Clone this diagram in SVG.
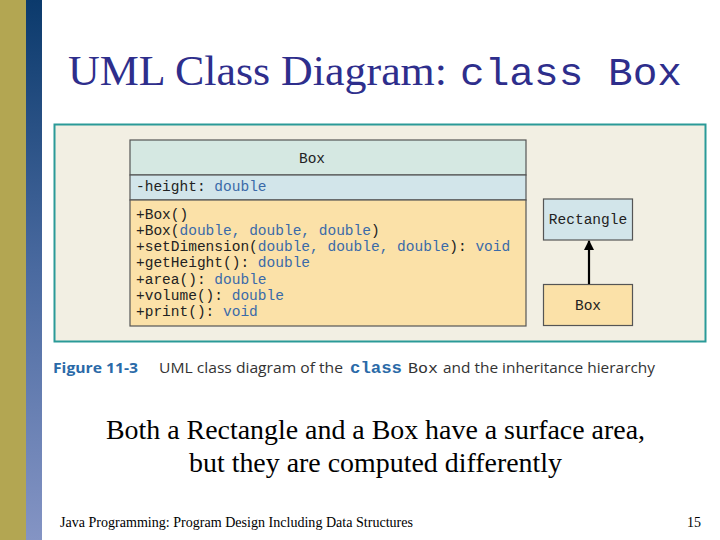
<svg xmlns="http://www.w3.org/2000/svg" width="720" height="540" viewBox="0 0 720 540">
<defs>
<linearGradient id="bar" x1="0" y1="0" x2="0" y2="1">
<stop offset="0" stop-color="#0b3a6c"/>
<stop offset="0.5" stop-color="#4a6aa0"/>
<stop offset="1" stop-color="#8494c4"/>
</linearGradient>
<marker id="arr" markerWidth="10" markerHeight="10" refX="9" refY="5" orient="auto" markerUnits="userSpaceOnUse">
<path d="M0,0 L10,5 L0,10 z" fill="#000"/>
</marker>
<style>
.mono{font-family:"Liberation Mono","Courier New",monospace;font-size:14.5px;fill:#222}
.t{fill:#3a6aa8}
.box{stroke:#555;stroke-width:1.2}
.serif{font-family:"Liberation Serif","Times New Roman",serif;fill:#000}
.cap{font-family:"Open Sans","Liberation Sans",sans-serif;font-size:15px;fill:#333}
</style>
</defs>
<rect width="720" height="540" fill="#fff"/>
<rect x="0" y="0" width="26" height="540" fill="#b3a652"/>
<rect x="26" y="0" width="16" height="540" fill="url(#bar)"/>
<text x="68" y="85" class="serif" font-size="43" fill="#2e2e8c" style="fill:#2e2e8c" textLength="379" lengthAdjust="spacingAndGlyphs">UML Class Diagram:</text>
<text x="460" y="85" font-family="'Liberation Mono','Courier New',monospace" font-size="39" font-weight="300" fill="#2e2e8c" textLength="222" lengthAdjust="spacingAndGlyphs">class Box</text>
<rect x="54.5" y="124.5" width="651" height="217" fill="#f2efe3" stroke="#2a9a98" stroke-width="2"/>
<g id="box-class">
<rect class="box" x="130" y="140" width="396" height="35" fill="#d5e8e2"/>
<rect class="box" x="130" y="175" width="396" height="25" fill="#d2e5ea"/>
<rect class="box" x="130" y="200" width="396" height="126" fill="#fbe1a8"/>
<text class="mono" x="312" y="163" text-anchor="middle">Box</text>
<text class="mono" x="136" y="191">-height: <tspan class="t">double</tspan></text>
<text class="mono" x="136" y="219">+Box()</text>
<text class="mono" x="136" y="235">+Box(<tspan class="t">double, double, double</tspan>)</text>
<text class="mono" x="136" y="251">+setDimension(<tspan class="t">double, double, double</tspan>): <tspan class="t">void</tspan></text>
<text class="mono" x="136" y="267">+getHeight(): <tspan class="t">double</tspan></text>
<text class="mono" x="136" y="284">+area(): <tspan class="t">double</tspan></text>
<text class="mono" x="136" y="300">+volume(): <tspan class="t">double</tspan></text>
<text class="mono" x="136" y="316">+print(): <tspan class="t">void</tspan></text>
</g>
<g id="rectangle">
<rect class="box" x="543.5" y="199" width="89" height="41" fill="#d2e5ea"/>
<text class="mono" x="588" y="224" text-anchor="middle">Rectangle</text>
</g>
<g id="box-sub">
<rect class="box" x="543.5" y="284.5" width="89" height="41" fill="#fbe1a8"/>
<text class="mono" x="588" y="310" text-anchor="middle">Box</text>
</g>
<g id="connectors">
<line x1="589" y1="284" x2="589" y2="241" stroke="#000" stroke-width="2.2" marker-end="url(#arr)"/>
</g>
<text x="53" y="373" class="cap" font-weight="bold" style="fill:#2a6aa8" textLength="85" lengthAdjust="spacingAndGlyphs">Figure 11-3</text>
<text x="159" y="373" class="cap" textLength="184" lengthAdjust="spacingAndGlyphs">UML class diagram of the</text>
<text x="350" y="373" font-family="'Liberation Mono',monospace" font-size="16" font-weight="bold" fill="#2a6aa8" textLength="52" lengthAdjust="spacingAndGlyphs">class</text>
<text x="408" y="373" font-family="'Liberation Mono',monospace" font-size="14" fill="#333" textLength="30" lengthAdjust="spacingAndGlyphs">Box</text>
<text x="443" y="373" class="cap" textLength="212" lengthAdjust="spacingAndGlyphs">and the inheritance hierarchy</text>
<text x="106" y="439" class="serif" font-size="27" textLength="539" lengthAdjust="spacingAndGlyphs">Both a Rectangle and a Box have a surface area,</text>
<text x="189" y="472" class="serif" font-size="27" textLength="373" lengthAdjust="spacingAndGlyphs">but they are computed differently</text>
<text x="60" y="527" class="serif" font-size="14" textLength="353" lengthAdjust="spacingAndGlyphs">Java Programming: Program Design Including Data Structures</text>
<text x="701" y="527" text-anchor="end" class="serif" font-size="14">15</text>
</svg>
